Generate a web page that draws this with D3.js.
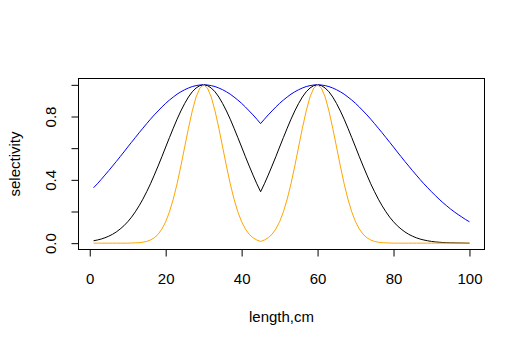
<!DOCTYPE html>
<html>
<head>
<meta charset="utf-8">
<script src="https://cdn.jsdelivr.net/npm/d3@7"></script>
<style>
html,body{margin:0;padding:0;background:#fff;}
svg{display:block;}
text{font-family:"Liberation Sans",Arial,sans-serif;font-size:15px;fill:#000;}
</style>
</head>
<body>
<svg id="chart" width="525" height="346"></svg>
<script>
// lengths 1..100
const lengths = d3.range(1, 101);
const blueSel = [
0.350,0.375,0.402,0.430,0.458,0.487,0.516,0.546,0.576,0.607,0.637,0.667,0.697,0.726,0.755,0.783,0.810,0.835,0.860,0.883,0.904,0.923,0.941,0.956,0.969,0.980,0.989,0.995,0.999,
1,
0.999,0.995,0.989,0.980,0.969,0.956,0.941,0.923,0.904,0.883,0.860,0.835,0.810,0.783,0.755,
0.783,0.810,0.835,0.860,0.883,0.904,0.923,0.941,0.956,0.969,0.980,0.989,0.995,0.999,
1,
0.999,0.995,0.989,0.980,0.969,0.956,0.941,0.923,0.904,0.883,0.860,0.835,0.810,0.783,0.755,0.726,0.697,0.667,0.637,0.607,0.576,0.546,0.516,0.487,0.458,0.430,0.402,0.375,0.350,0.325,0.301,0.278,0.256,0.236,0.216,0.198,0.181,0.165,0.149,0.135
];
const blackSel = [
0.015,0.020,0.026,0.034,0.044,0.056,0.071,0.089,0.110,0.135,0.164,0.198,0.236,0.278,0.325,0.375,0.430,0.487,0.546,0.607,0.667,0.726,0.783,0.835,0.882,0.923,0.956,0.980,0.995,
1,
0.995,0.980,0.956,0.923,0.882,0.835,0.783,0.726,0.667,0.607,0.546,0.487,0.430,0.375,0.325,
0.375,0.430,0.487,0.546,0.607,0.667,0.726,0.783,0.835,0.882,0.923,0.956,0.980,0.995,
1,
0.995,0.980,0.956,0.923,0.882,0.835,0.783,0.726,0.667,0.607,0.546,0.487,0.430,0.375,0.325,0.278,0.236,0.198,0.164,0.135,0.110,0.089,0.071,0.056,0.044,0.034,0.026,0.020,0.015,0.011,0.008,0.006,0.004,0.003,0.002,0.002,0.001,0.001,0.000,0.000
];
const orangeSel = [
0,0,0,0,0,0,0,0,0,0,
0.001,0.002,0.003,0.006,0.011,0.020,0.034,0.056,0.089,0.135,0.198,0.278,0.375,0.487,0.607,0.726,0.835,0.923,0.980,
1,
0.980,0.923,0.835,0.726,0.607,0.487,0.375,0.278,0.198,0.135,0.089,0.056,0.034,0.020,0.011,
0.020,0.034,0.056,0.089,0.135,0.198,0.278,0.375,0.487,0.607,0.726,0.835,0.923,0.980,
1,
0.980,0.923,0.835,0.726,0.607,0.487,0.375,0.278,0.198,0.135,0.089,0.056,0.034,0.020,0.011,0.006,0.003,0.002,0.001,
0,0,0,0,0,0,0,0,0,0,0,0,0,0,0,0,0,0,0,0,0
];
const xTicks = [0, 20, 40, 60, 80, 100];
const yTicks = [0, 0.2, 0.4, 0.6, 0.8, 1.0];
const yTickLabels = ["0.0", "", "0.4", "", "0.8", ""];
const xTitle = "length,cm";
const yTitle = "selectivity";

const svg = d3.select("#chart");
const L = 78.5, R = 484.5, T = 78.5, B = 249.5;
const x = d3.scaleLinear().domain([-2.96, 103.96]).range([L, R]);
const y = d3.scaleLinear().domain([-0.04, 1.04]).range([B, T]);

// box
svg.append("rect").attr("x", L).attr("y", T).attr("width", R - L).attr("height", B - T)
  .attr("fill", "none").attr("stroke", "#000").attr("stroke-width", 1);

// x axis
const xAxis = svg.append("g").attr("transform", `translate(0,${B})`)
  .call(d3.axisBottom(x).tickValues(xTicks).tickSizeOuter(0).tickSizeInner(7).tickPadding(17).tickFormat(d3.format("d")));
xAxis.select(".domain").attr("d", `M${x(0)},0H${x(100)}`);
xAxis.selectAll("text").attr("font-size", 15).attr("font-family", "Liberation Sans, Arial, sans-serif");

// y axis
const yAxis = svg.append("g").attr("transform", `translate(${L},0)`)
  .call(d3.axisLeft(y).tickValues(yTicks).tickSizeOuter(0).tickSizeInner(7).tickFormat((d, i) => yTickLabels[i]));
yAxis.select(".domain").attr("d", `M0,${y(0)}V${y(1)}`);
yAxis.selectAll("text")
  .attr("font-size", 15).attr("font-family", "Liberation Sans, Arial, sans-serif")
  .attr("text-anchor", "middle").attr("dy", null).attr("x", null)
  .attr("transform", "translate(-23,0) rotate(-90)")
  .attr("y", 0);

// lines
const line = d3.line().x((d, i) => x(lengths[i])).y(d => y(d));
const series = [[blueSel, "#0000FF"], [blackSel, "#000000"], [orangeSel, "#FFA500"]];
series.forEach(([vals, col]) => {
  svg.append("path").datum(vals).attr("d", line).attr("fill", "none")
    .attr("stroke", col).attr("stroke-width", 1);
});

// titles
svg.append("text").attr("x", (L + R) / 2).attr("y", 322).attr("text-anchor", "middle").text(xTitle);
svg.append("text").attr("transform", `translate(20,${(T + B) / 2}) rotate(-90)`).attr("text-anchor", "middle").text(yTitle);
</script>
</body>
</html>
